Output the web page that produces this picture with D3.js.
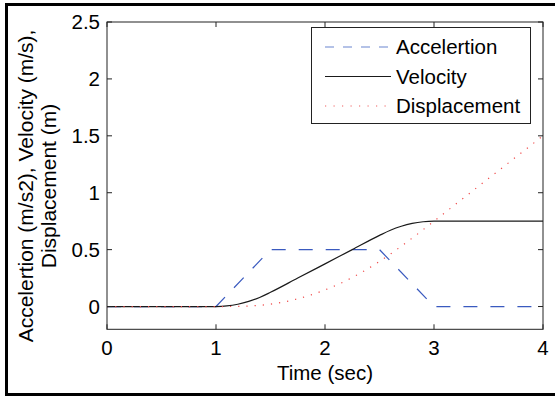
<!DOCTYPE html>
<html>
<head>
<meta charset="utf-8">
<script src="https://cdn.jsdelivr.net/npm/d3@7"></script>
<style>
  body { margin: 0; background: #fff; }
  svg { display: block; font-family: "Liberation Sans", Arial, sans-serif; }
</style>
</head>
<body>
<svg id="chart" width="555" height="396"></svg>
<script>
// Acceleration breakpoints (m/s2)
var accTime = [0, 1, 1.5, 2.5, 3, 4];
var accValues = [0, 0, 0.5, 0.5, 0, 0];

// Velocity and displacement samples
var curveTime = [0, 1, 1.1, 1.2, 1.3, 1.4, 1.5, 1.75, 2, 2.25, 2.5, 2.6, 2.7, 2.8, 2.9, 3, 4];
var velocityValues = [0, 0, 0.005, 0.02, 0.045, 0.08, 0.125, 0.25, 0.375, 0.5, 0.625, 0.67, 0.705, 0.73, 0.745, 0.75, 0.75];
var displacementValues = [0, 0, 0.0002, 0.0013, 0.0045, 0.0107, 0.0208, 0.068, 0.146, 0.255, 0.396, 0.461, 0.53, 0.601, 0.675, 0.75, 1.5];

var xTicks = [0, 1, 2, 3, 4];
var yTicks = [0, 0.5, 1, 1.5, 2, 2.5];
var legendNames = ['Accelertion', 'Velocity', 'Displacement'];

var svg = d3.select('#chart');
var plotLeft = 107, plotRight = 543, plotTop = 22, plotBottom = 329.3;

var x = d3.scaleLinear().domain([0, 4]).range([plotLeft, plotRight]);
var y = d3.scaleLinear().domain([-0.2, 2.5]).range([plotBottom, plotTop]);

// outer frame
svg.append('rect')
  .attr('x', 6.5).attr('y', 4.5)
  .attr('width', 560).attr('height', 390)
  .attr('fill', 'none').attr('stroke', '#000').attr('stroke-width', 3);

function zip(xs, ys) {
  return xs.map(function (t, i) { return [t, ys[i]]; });
}

var line = d3.line()
  .x(function (d) { return x(d[0]); })
  .y(function (d) { return y(d[1]); });

var smooth = d3.line()
  .x(function (d) { return x(d[0]); })
  .y(function (d) { return y(d[1]); })
  .curve(d3.curveMonotoneX);

var plot = svg.append('g');

plot.append('path')
  .attr('d', line(zip(accTime, accValues)))
  .attr('fill', 'none').attr('stroke', '#3a5abf')
  .attr('stroke-width', 1.2).attr('stroke-dasharray', '14 13');

plot.append('path')
  .attr('d', smooth(zip(curveTime, velocityValues)))
  .attr('fill', 'none').attr('stroke', '#1a1a1a')
  .attr('stroke-width', 1.2);

plot.append('path')
  .attr('d', smooth(zip(curveTime, displacementValues)))
  .attr('fill', 'none').attr('stroke', '#f04848')
  .attr('stroke-width', 1.2).attr('stroke-dasharray', '1.2 7');

// axes box with inward ticks on all sides
var tickLen = 5;
var axes = svg.append('g').attr('stroke', '#222').attr('stroke-width', 1);

axes.append('rect')
  .attr('x', plotLeft).attr('y', plotTop)
  .attr('width', plotRight - plotLeft).attr('height', plotBottom - plotTop)
  .attr('fill', 'none');

xTicks.forEach(function (t) {
  axes.append('line').attr('x1', x(t)).attr('x2', x(t)).attr('y1', plotBottom).attr('y2', plotBottom - tickLen);
  axes.append('line').attr('x1', x(t)).attr('x2', x(t)).attr('y1', plotTop).attr('y2', plotTop + tickLen);
});
yTicks.forEach(function (v) {
  axes.append('line').attr('x1', plotLeft).attr('x2', plotLeft + tickLen).attr('y1', y(v)).attr('y2', y(v));
  axes.append('line').attr('x1', plotRight).attr('x2', plotRight - tickLen).attr('y1', y(v)).attr('y2', y(v));
});

var fontSize = '20.5px';

svg.append('g').selectAll('text')
  .data(xTicks)
  .enter().append('text')
  .attr('x', function (d) { return x(d); })
  .attr('y', 355)
  .attr('text-anchor', 'middle')
  .style('font-size', fontSize)
  .text(function (d) { return d; });

svg.append('g').selectAll('text')
  .data(yTicks)
  .enter().append('text')
  .attr('x', 100)
  .attr('y', function (d) { return y(d); })
  .attr('dy', '0.36em')
  .attr('text-anchor', 'end')
  .style('font-size', fontSize)
  .text(function (d) { return d; });

svg.append('text')
  .attr('x', (plotLeft + plotRight) / 2)
  .attr('y', 380)
  .attr('text-anchor', 'middle')
  .style('font-size', fontSize)
  .text('Time (sec)');

var yLabel = svg.append('text')
  .attr('transform', 'translate(33, 186) rotate(-90)')
  .attr('text-anchor', 'middle')
  .style('font-size', '21px');
yLabel.append('tspan').attr('x', 0).attr('y', 0).text('Accelertion (m/s2), Velocity (m/s),');
yLabel.append('tspan').attr('x', 0).attr('y', 23).text('Displacement (m)');

// legend
var legend = svg.append('g');
legend.append('rect')
  .attr('x', 311.5).attr('y', 27.5)
  .attr('width', 219).attr('height', 96)
  .attr('fill', '#fff').attr('stroke', '#222').attr('stroke-width', 1);

var legendStyles = [
  { color: '#6a86d0', dash: '9 9' },
  { color: '#1a1a1a', dash: null },
  { color: '#f06060', dash: '1.2 7.3' }
];
var rowY = [47, 76.5, 106];

legendNames.forEach(function (name, i) {
  legend.append('line')
    .attr('x1', 325).attr('x2', 391)
    .attr('y1', rowY[i]).attr('y2', rowY[i])
    .attr('stroke', legendStyles[i].color)
    .attr('stroke-width', 1.2)
    .attr('stroke-dasharray', legendStyles[i].dash);
  legend.append('text')
    .attr('x', 396)
    .attr('y', rowY[i])
    .attr('dy', '0.36em')
    .style('font-size', fontSize)
    .text(name);
});
</script>
</body>
</html>
